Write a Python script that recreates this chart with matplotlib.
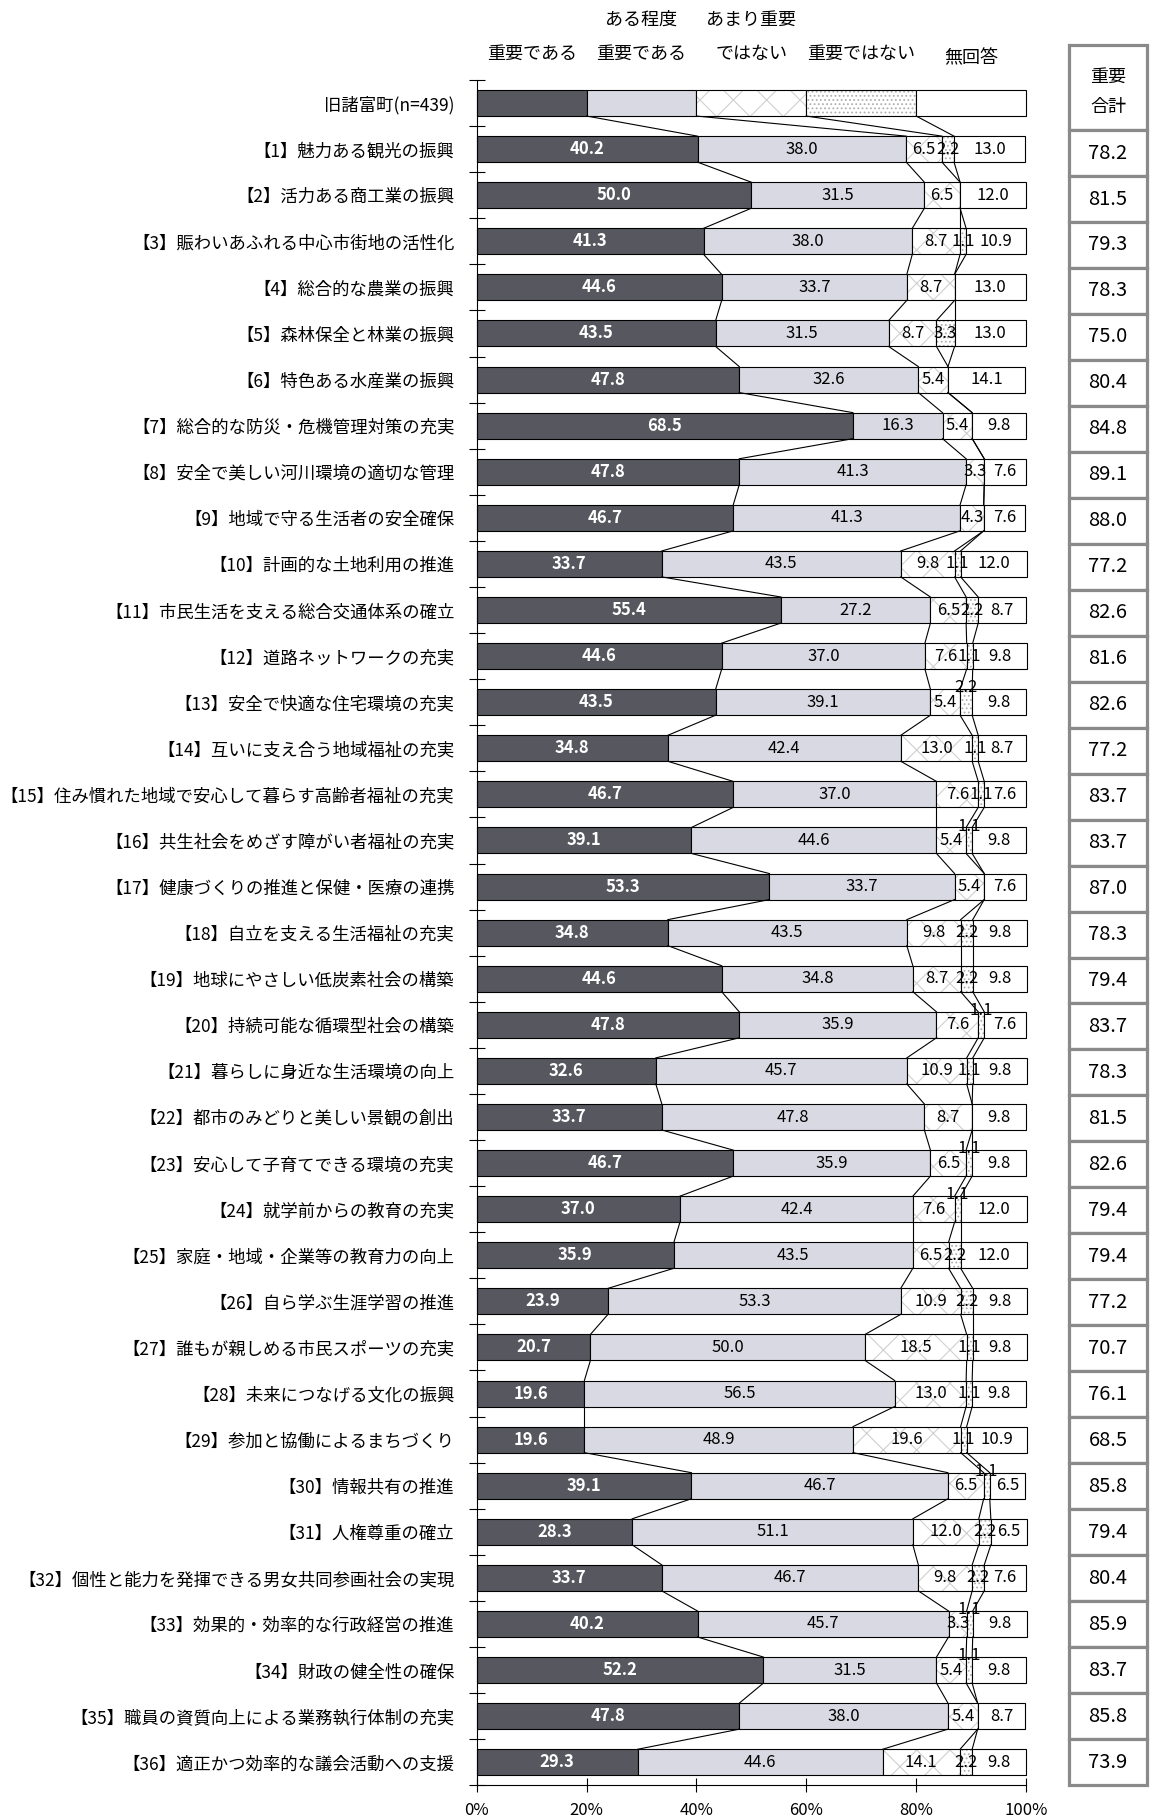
import numpy as np
import matplotlib
matplotlib.use("Agg")
import matplotlib.pyplot as plt
from matplotlib.patches import Rectangle

plt.rcParams['font.family'] = ['Noto Sans CJK JP', 'DejaVu Sans']
plt.rcParams['hatch.linewidth'] = 0.8

# --- data ---
categories = [
    "旧諸富町(n=439)",
    "【1】魅力ある観光の振興",
    "【2】活力ある商工業の振興",
    "【3】賑わいあふれる中心市街地の活性化",
    "【4】総合的な農業の振興",
    "【5】森林保全と林業の振興",
    "【6】特色ある水産業の振興",
    "【7】総合的な防災・危機管理対策の充実",
    "【8】安全で美しい河川環境の適切な管理",
    "【9】地域で守る生活者の安全確保",
    "【10】計画的な土地利用の推進",
    "【11】市民生活を支える総合交通体系の確立",
    "【12】道路ネットワークの充実",
    "【13】安全で快適な住宅環境の充実",
    "【14】互いに支え合う地域福祉の充実",
    "【15】住み慣れた地域で安心して暮らす高齢者福祉の充実",
    "【16】共生社会をめざす障がい者福祉の充実",
    "【17】健康づくりの推進と保健・医療の連携",
    "【18】自立を支える生活福祉の充実",
    "【19】地球にやさしい低炭素社会の構築",
    "【20】持続可能な循環型社会の構築",
    "【21】暮らしに身近な生活環境の向上",
    "【22】都市のみどりと美しい景観の創出",
    "【23】安心して子育てできる環境の充実",
    "【24】就学前からの教育の充実",
    "【25】家庭・地域・企業等の教育力の向上",
    "【26】自ら学ぶ生涯学習の推進",
    "【27】誰もが親しめる市民スポーツの充実",
    "【28】未来につなげる文化の振興",
    "【29】参加と協働によるまちづくり",
    "【30】情報共有の推進",
    "【31】人権尊重の確立",
    "【32】個性と能力を発揮できる男女共同参画社会の実現",
    "【33】効果的・効率的な行政経営の推進",
    "【34】財政の健全性の確保",
    "【35】職員の資質向上による業務執行体制の充実",
    "【36】適正かつ効率的な議会活動への支援",
]

very = [20, 40.2, 50.0, 41.3, 44.6, 43.5, 47.8, 68.5, 47.8, 46.7, 33.7, 55.4, 44.6,
        43.5, 34.8, 46.7, 39.1, 53.3, 34.8, 44.6, 47.8, 32.6, 33.7, 46.7, 37.0,
        35.9, 23.9, 20.7, 19.6, 19.6, 39.1, 28.3, 33.7, 40.2, 52.2, 47.8, 29.3]
somewhat = [20, 38.0, 31.5, 38.0, 33.7, 31.5, 32.6, 16.3, 41.3, 41.3, 43.5, 27.2, 37.0,
            39.1, 42.4, 37.0, 44.6, 33.7, 43.5, 34.8, 35.9, 45.7, 47.8, 35.9, 42.4,
            43.5, 53.3, 50.0, 56.5, 48.9, 46.7, 51.1, 46.7, 45.7, 31.5, 38.0, 44.6]
not_very = [20, 6.5, 6.5, 8.7, 8.7, 8.7, 5.4, 5.4, 3.3, 4.3, 9.8, 6.5, 7.6,
            5.4, 13.0, 7.6, 5.4, 5.4, 9.8, 8.7, 7.6, 10.9, 8.7, 6.5, 7.6,
            6.5, 10.9, 18.5, 13.0, 19.6, 6.5, 12.0, 9.8, 3.3, 5.4, 5.4, 14.1]
not_imp = [20, 2.2, 0, 1.1, 0, 3.3, 0, 0, 0, 0, 1.1, 2.2, 1.1,
           2.2, 1.1, 1.1, 1.1, 0, 2.2, 2.2, 1.1, 1.1, 0, 1.1, 1.1,
           2.2, 2.2, 1.1, 1.1, 1.1, 1.1, 2.2, 2.2, 1.1, 1.1, 0, 2.2]
no_answer = [20, 13.0, 12.0, 10.9, 13.0, 13.0, 14.1, 9.8, 7.6, 7.6, 12.0, 8.7, 9.8,
             9.8, 8.7, 7.6, 9.8, 7.6, 9.8, 9.8, 7.6, 9.8, 9.8, 9.8, 12.0,
             12.0, 9.8, 9.8, 9.8, 10.9, 6.5, 6.5, 7.6, 9.8, 9.8, 8.7, 9.8]
totals = [78.2, 81.5, 79.3, 78.3, 75.0, 80.4, 84.8, 89.1, 88.0, 77.2, 82.6, 81.6,
          82.6, 77.2, 83.7, 83.7, 87.0, 78.3, 79.4, 83.7, 78.3, 81.5, 82.6, 79.4,
          79.4, 77.2, 70.7, 76.1, 68.5, 85.8, 79.4, 80.4, 85.9, 83.7, 85.8, 73.9]

legend_top = ["", "ある程度", "あまり重要", "", ""]
legend_bottom = ["重要である", "重要である", "ではない", "重要ではない", "無回答"]

# rows where the small "重要ではない" label sits on the bar's top edge
raised_rows = [13, 16, 20, 23, 24, 30, 33, 34]

# --- figure ---
fig = plt.figure(figsize=(11.5, 18.16), dpi=100)
ax = fig.add_axes([476.7 / 1150, 1 - 1785.3 / 1816, (1026 - 476.7) / 1150, (1785.3 - 80) / 1816])

data = np.array([very, somewhat, not_very, not_imp, no_answer]).T
n = len(categories)
y = np.arange(n)
h = 0.564

fills = ['#57575f', '#d9d9e3', 'white', 'white', 'white']
hatches = [None, None, 'x', '....', None]
hatch_cols = [None, None, '#d0d0d0', '#b0b0b0', None]

left = np.zeros(n)
for k in range(5):
    vals = data[:, k]
    if hatches[k]:
        b = ax.barh(y, vals, left=left, height=h, color=fills[k],
                    edgecolor=hatch_cols[k], hatch=hatches[k], linewidth=0)
        for p in b.patches:
            p.set_clip_on(False)
        b = ax.barh(y, vals, left=left, height=h, facecolor='none',
                    edgecolor='black', linewidth=0.8)
    else:
        b = ax.barh(y, vals, left=left, height=h, color=fills[k],
                    edgecolor='black', linewidth=0.8)
    for p in b.patches:
        p.set_clip_on(False)
    left = left + vals

# series lines between bars
cum = np.cumsum(data, axis=1)
for i in range(n - 1):
    for k in range(4):
        ax.plot([cum[i, k], cum[i + 1, k]], [i + h / 2, i + 1 - h / 2],
                color='black', lw=0.8, clip_on=False)

# value labels
for i in range(1, n):
    start = 0
    for k in range(5):
        v = data[i, k]
        if v > 0:
            yy = i
            if k == 3 and i in raised_rows:
                yy = i - h / 2 - 0.03
            ax.text(start + v / 2, yy, f"{v:.1f}", ha='center', va='center',
                    fontsize=12, color='white' if k == 0 else 'black',
                    fontweight='bold' if k == 0 else 'normal')
        start += v

# legend header text above the first bar
for k in range(5):
    x = 10 + 20 * k
    yb = -0.977 if k == 4 else -1.064
    ax.text(x, yb, legend_bottom[k], ha='center', va='center', fontsize=13, clip_on=False)
    if legend_top[k]:
        ax.text(x, -1.80, legend_top[k], ha='center', va='center', fontsize=13, clip_on=False)

ax.set_xlim(0, 100)
ax.set_ylim(n - 0.5, -0.5)
ax.set_xticks(range(0, 101, 20))
ax.set_xticklabels([f"{v}%" for v in range(0, 101, 20)], fontsize=12)
ax.tick_params(axis='x', direction='inout', length=10, width=0.8, pad=7)
ax.set_yticks(y)
ax.set_yticklabels(categories, fontsize=12.5)
ax.tick_params(axis='y', which='major', length=0, pad=16)
ax.set_yticks(np.arange(-0.5, n, 1), minor=True)
ax.tick_params(axis='y', which='minor', direction='inout', length=12, width=0.8)
for s in ['top', 'right']:
    ax.spines[s].set_visible(False)
for s in ['left', 'bottom']:
    ax.spines[s].set_linewidth(0.8)

# --- right-hand total table ---
ax2 = fig.add_axes([1069 / 1150, 1 - 1785 / 1816, (1147 - 1069) / 1150, (1785 - 45) / 1816])
ax2.set_xlim(0, 1)
ax2.set_ylim(36, -1.85)
ax2.axis('off')
ax2.add_patch(Rectangle((0, -1.85), 1, 1.85, facecolor='white', edgecolor='#8a8a8a',
                        lw=2.3, clip_on=False))
ax2.text(0.5, -1.16, "重要", ha='center', va='center', fontsize=13)
ax2.text(0.5, -0.51, "合計", ha='center', va='center', fontsize=13)
for i, t in enumerate(totals):
    ax2.add_patch(Rectangle((0, i), 1, 1, facecolor='white', edgecolor='#8a8a8a',
                            lw=2.3, clip_on=False))
    ax2.text(0.5, i + 0.5, f"{t:.1f}", ha='center', va='center', fontsize=14.5)

fig.savefig("out.png", dpi=100)
